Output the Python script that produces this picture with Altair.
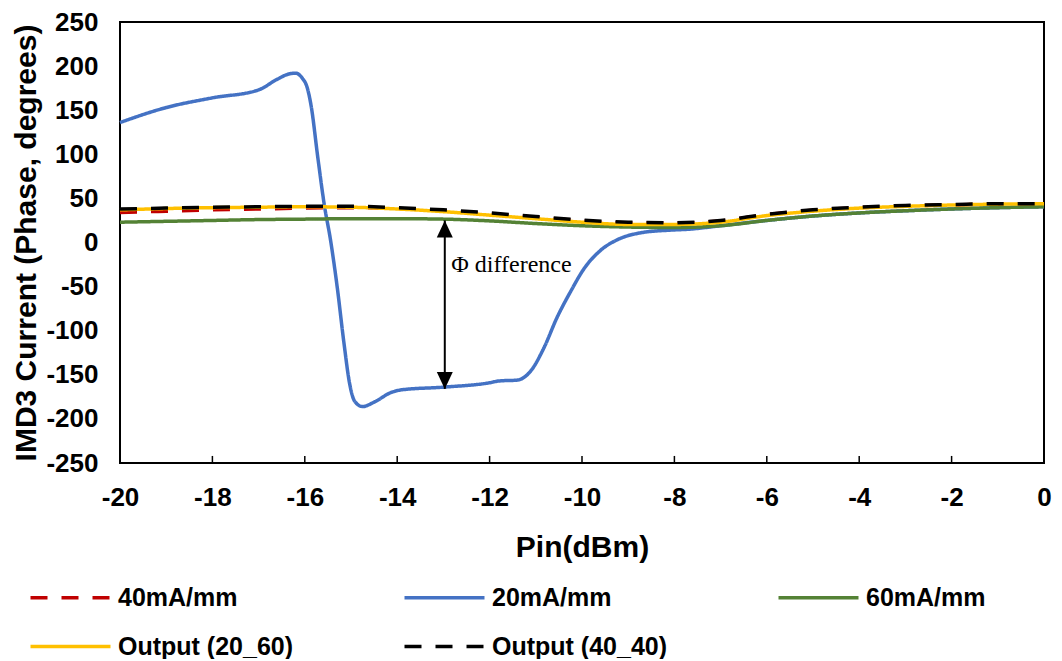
import altair as alt
import pandas as pd

# ---------------- data ----------------
pin_common = [-20, -19, -18, -17, -16, -15, -14, -13, -12, -11, -10,
              -9, -8, -7, -6, -5, -4, -3, -2, -1, 0]

phase_40mA = [34, 35.5, 37, 38, 39, 39.5, 38.5, 36, 32.5, 28.5, 24.5,
              22, 22, 24.5, 31.5, 36.5, 39.5, 41.5, 42.5, 43.5, 44]
phase_60mA = [23, 24, 25, 26, 26.5, 27, 27, 26.5, 24.5, 21.5, 19,
              17.5, 17, 19, 25, 30, 33.5, 36, 38, 39.5, 40.5]
phase_out_20_60 = [37, 38.5, 39.5, 40, 40.5, 40, 38, 35, 31, 27, 23,
                   20.5, 20.5, 23, 30.5, 35.5, 39, 41, 42.5, 43.5, 44]
phase_out_40_40 = [38, 39, 40, 40.5, 41, 41, 39.5, 37, 33.5, 29.5, 25.5,
                   23, 22.5, 25, 32, 37, 40, 42, 43, 44, 44]

pin_20mA = [-20, -19, -18, -17, -16.6, -16.35, -16.2, -16.05, -15.95, -15.86,
            -15.72, -15.57, -15.45, -15.3, -15.15, -15.03, -14.92, -14.75,
            -14.5, -14.13, -13.9, -13, -12, -11.8, -11.4, -11.1, -10.82,
            -10.54, -10.24, -9.96, -9.6, -9.24, -8.73, -8.1, -7.7, -7,
            -6, -5, -4, -3, -2, -1, 0]
phase_20mA = [136, 153, 164, 173, 185, 191, 192, 186, 176, 154,
              97, 40, 5, -50, -115, -160, -180, -186,
              -181, -170, -167, -164, -159, -157, -156, -145, -119,
              -85, -55, -30, -9, 3, 11, 14, 15, 19,
              25, 30, 33.5, 36, 38, 39.5, 40.5]

series_names = ["40mA/mm", "20mA/mm", "60mA/mm", "Output (20_60)", "Output (40_40)"]
series_colors = ["#C00000", "#4472C4", "#548235", "#FFC000", "#000000"]
series_dash = [[17, 14], [1, 0], [1, 0], [1, 0], [17, 14]]
series_width = [3.5, 3.5, 3.5, 5, 4.5]

xtick_values = list(range(-20, 1, 2))
ytick_values = list(range(-250, 251, 50))
inner_ticks = list(range(-18, 0, 2))

arrow_x = [-12.97]
arrow_top = [25]
arrow_bottom = [-166]
note_x = [-12.83]
note_y = [-33]
note_text = ["\u03a6 difference"]

# ---------------- tables ----------------
rows = []
for name, ys in [("40mA/mm", phase_40mA), ("60mA/mm", phase_60mA),
                 ("Output (20_60)", phase_out_20_60), ("Output (40_40)", phase_out_40_40)]:
    for x, y in zip(pin_common, ys):
        rows.append({"pin": x, "phase": y, "series": name})
for x, y in zip(pin_20mA, phase_20mA):
    rows.append({"pin": x, "phase": y, "series": "20mA/mm"})
df = pd.DataFrame(rows)

arrow_df = pd.DataFrame({"x": arrow_x, "top": arrow_top, "bottom": arrow_bottom})
note_df = pd.DataFrame({"x": note_x, "y": note_y, "t": note_text})
ticks_df = pd.DataFrame({"x": inner_ticks})

# ---------------- encodings ----------------
xscale = alt.Scale(domain=[-20, 0], nice=False, zero=False)
yscale = alt.Scale(domain=[-250, 250], nice=False, zero=False)

x_enc = alt.X("pin:Q", scale=xscale,
              axis=alt.Axis(values=xtick_values, title="Pin(dBm)", labelPadding=21,
                            titlePadding=22, labelExpr="'' + datum.value", labelFlush=False))
y_enc = alt.Y("phase:Q", scale=yscale,
              axis=alt.Axis(values=ytick_values, title="IMD3 Current (Phase, degrees)",
                            labelPadding=22, titlePadding=4, labelExpr="'' + datum.value",
                            labelFlush=False))

legend = alt.Legend(
    title=None, orient="none", legendX=-62, legendY=563, columns=3, direction="horizontal",
    symbolType="M-4,0H4", symbolSize=400, labelOffset=35,
    columnPadding=103, rowPadding=23, gridAlign="all",
    labelFont="Liberation Sans", labelFontSize=25, labelFontWeight="bold",
    labelColor="black", padding=0, labelLimit=400,
)
color_enc = alt.Color("series:N", scale=alt.Scale(domain=series_names, range=series_colors),
                      legend=legend)
dash_enc = alt.StrokeDash("series:N", scale=alt.Scale(domain=series_names, range=series_dash),
                          legend=legend)
width_enc = alt.StrokeWidth("series:N", scale=alt.Scale(domain=series_names, range=series_width),
                            legend=legend)

base = alt.Chart(df)
draw_order = ["40mA/mm", "20mA/mm", "60mA/mm", "Output (20_60)", "Output (40_40)"]
line_layers = []
for name in draw_order:
    line_layers.append(
        base.transform_filter(alt.datum.series == name)
        .mark_line(interpolate="monotone", strokeCap="butt")
        .encode(x=x_enc, y=y_enc, color=color_enc, strokeDash=dash_enc, strokeWidth=width_enc)
    )

ticks = alt.Chart(ticks_df).mark_rule(color="black", strokeWidth=1.5).encode(
    x=alt.X("x:Q", scale=xscale), y=alt.datum(-250), y2=alt.datum(-242))

arrow_line = alt.Chart(arrow_df).mark_rule(color="black", strokeWidth=2).encode(
    x=alt.X("x:Q", scale=xscale), y=alt.Y("top:Q", scale=yscale), y2="bottom:Q")
head_up = alt.Chart(arrow_df).mark_point(
    shape="M0,0L0.94,2L-0.94,2Z", filled=True, size=289, color="black", opacity=1
).encode(x=alt.X("x:Q", scale=xscale), y=alt.Y("top:Q", scale=yscale))
head_down = alt.Chart(arrow_df).mark_point(
    shape="M0,0L0.94,-2L-0.94,-2Z", filled=True, size=289, color="black", opacity=1
).encode(x=alt.X("x:Q", scale=xscale), y=alt.Y("bottom:Q", scale=yscale))

note = alt.Chart(note_df).mark_text(
    align="left", baseline="alphabetic", font="Liberation Serif", fontSize=24, color="black"
).encode(x=alt.X("x:Q", scale=xscale), y=alt.Y("y:Q", scale=yscale), text="t:N")

chart = alt.layer(ticks, *line_layers, arrow_line, head_up, head_down, note).properties(
    width=924, height=441,
    autosize=alt.AutoSizeParams(type="none"),
    padding={"left": 112, "top": 14, "right": 9, "bottom": 196},
).configure_axis(
    labelFont="Liberation Sans", labelFontWeight="bold", labelFontSize=26, labelColor="black",
    titleFont="Liberation Sans", titleFontWeight="bold", titleFontSize=30, titleColor="black",
    grid=False, domain=False, ticks=False, tickSize=0,
).configure_view(stroke="black", strokeWidth=2)

chart.save("out.html", embed_options={"renderer": "svg", "actions": False})
